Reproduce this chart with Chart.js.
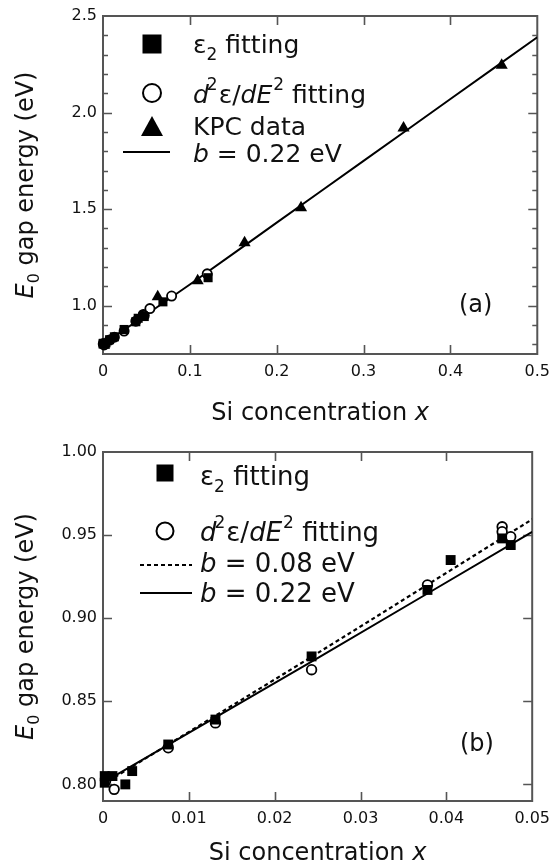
<!DOCTYPE html>
<html>
<head>
<meta charset="utf-8">
<script src="https://cdn.jsdelivr.net/npm/chart.js@4.4.0/dist/chart.umd.min.js"></script>
<style>
  html, body { margin: 0; padding: 0; background: #fff; }
  #wrap { position: relative; width: 558px; height: 863px; overflow: hidden; }
  canvas { position: absolute; left: 0; }
  #ca { top: 0; }
  #cb { top: 430px; }
</style>
</head>
<body>
<div id="wrap">
  <canvas id="ca" width="558" height="430"></canvas>
  <canvas id="cb" width="558" height="433"></canvas>
</div>
<script>
// ---- axis ticks ----
const xTicksA = [0, 0.1, 0.2, 0.3, 0.4, 0.5];
const yTicksA = [1.0, 1.5, 2.0, 2.5];
const yMinorA = [0.8, 0.9, 1.1, 1.2, 1.3, 1.4, 1.6, 1.7, 1.8, 1.9, 2.1, 2.2, 2.3, 2.4];
const xTicksB = [0, 0.01, 0.02, 0.03, 0.04, 0.05];
const yTicksB = [0.80, 0.85, 0.90, 0.95, 1.00];

// ---- ε2 fitting (dilute samples, x < 0.05) ----
const eps2X = [0.0002, 0.0002, 0.0011, 0.0026, 0.0034, 0.0076, 0.0131, 0.0243, 0.0378, 0.0405, 0.0465, 0.0475];
const eps2Y = [0.805, 0.801, 0.805, 0.800, 0.808, 0.824, 0.839, 0.877, 0.917, 0.935, 0.948, 0.944];
// ε2 fitting, higher Si content
const eps2HiX = [0.069, 0.121];
const eps2HiY = [1.020, 1.145];

// ---- d²ε/dE² fitting (dilute samples) ----
const d2X = [0.0003, 0.0013, 0.0076, 0.0131, 0.0243, 0.0378, 0.0465, 0.0465, 0.0475];
const d2Y = [0.802, 0.797, 0.822, 0.837, 0.869, 0.920, 0.955, 0.952, 0.949];
// d²ε/dE² fitting, higher Si content
const d2HiX = [0.054, 0.079, 0.120];
const d2HiY = [0.985, 1.050, 1.165];

// ---- KPC data ----
const kpcX = [0.063, 0.109, 0.163, 0.228, 0.346, 0.459];
const kpcY = [1.046, 1.129, 1.326, 1.507, 1.920, 2.245];

// ---- bowing curves ----
const fit22X = [0, 0.1, 0.2, 0.3, 0.4, 0.5];
const fit22Y = [0.800, 1.110, 1.430, 1.750, 2.070, 2.390];
const fit22BX = [0, 0.025, 0.05];
const fit22BY = [0.801, 0.876, 0.952];
const fit08BX = [0, 0.025, 0.05];
const fit08BY = [0.800, 0.879, 0.9595];

const FONT = "'DejaVu Sans', sans-serif";
const INK = '#111';
const TICK_FONT = { family: "'DejaVu Sans', sans-serif", size: 16, style: 'normal', weight: 'normal', lineHeight: 1.2 };

Chart.defaults.font.family = FONT;
Chart.defaults.font.size = 16;
Chart.defaults.color = INK;

const pts = (xs, ys) => xs.map((x, i) => ({ x: x, y: ys[i] }));

// draw a sequence of styled text pieces starting at (x, y)
function runWidth(ctx, runs) {
  let w = 0;
  for (const r of runs) {
    ctx.font = (r.it ? 'italic ' : '') + r.size + 'px ' + FONT;
    w += ctx.measureText(r.t).width + (r.dx || 0);
  }
  return w;
}
function drawRuns(ctx, x, y, runs) {
  let cx = x;
  for (const r of runs) {
    ctx.font = (r.it ? 'italic ' : '') + r.size + 'px ' + FONT;
    cx += (r.dx || 0);
    ctx.fillText(r.t, cx, y + (r.dy || 0));
    cx += ctx.measureText(r.t).width;
  }
}

function marker(ctx, kind, x, y, s) {
  ctx.save();
  ctx.fillStyle = '#000';
  ctx.strokeStyle = '#000';
  if (kind === 'square') {
    ctx.fillRect(x - s / 2, y - s / 2, s, s);
  } else if (kind === 'circle') {
    ctx.fillStyle = '#fff';
    ctx.lineWidth = 2;
    ctx.beginPath(); ctx.arc(x, y, s / 2, 0, Math.PI * 2); ctx.fill(); ctx.stroke();
  } else if (kind === 'triangle') {
    ctx.beginPath();
    ctx.moveTo(x, y - s * 0.55);
    ctx.lineTo(x + s * 0.55, y + s * 0.45);
    ctx.lineTo(x - s * 0.55, y + s * 0.45);
    ctx.closePath(); ctx.fill();
  }
  ctx.restore();
}

function hline(ctx, x0, x1, y, dash) {
  ctx.save();
  ctx.strokeStyle = '#000';
  ctx.lineWidth = 2;
  if (dash) ctx.setLineDash(dash);
  ctx.beginPath(); ctx.moveTo(x0, y); ctx.lineTo(x1, y); ctx.stroke();
  ctx.restore();
}

// plot frame with inward tick marks on all four sides
const framePlugin = {
  id: 'frame',
  beforeDatasetsDraw(chart, args, o) {
    const { ctx, chartArea: a, scales: { x, y } } = chart;
    ctx.save();
    ctx.strokeStyle = '#555';
    ctx.lineWidth = 2;
    ctx.strokeRect(a.left, a.top, a.right - a.left, a.bottom - a.top);
    ctx.lineWidth = 1.6;
    ctx.beginPath();
    for (const v of o.xMajor) {
      const px = Math.round(x.getPixelForValue(v)) + 0.5;
      if (px <= a.left + 2 || px >= a.right - 2) continue;
      ctx.moveTo(px, a.bottom); ctx.lineTo(px, a.bottom - o.major);
      ctx.moveTo(px, a.top); ctx.lineTo(px, a.top + o.major);
    }
    for (const v of o.yMajor) {
      const py = Math.round(y.getPixelForValue(v)) + 0.5;
      if (py <= a.top + 2 || py >= a.bottom - 2) continue;
      ctx.moveTo(a.left, py); ctx.lineTo(a.left + o.major, py);
      ctx.moveTo(a.right, py); ctx.lineTo(a.right - o.major, py);
    }
    for (const v of o.yMinor) {
      const py = Math.round(y.getPixelForValue(v)) + 0.5;
      ctx.moveTo(a.left, py); ctx.lineTo(a.left + o.minor, py);
      ctx.moveTo(a.right, py); ctx.lineTo(a.right - o.minor, py);
    }
    ctx.stroke();
    ctx.restore();
  }
};

// axis titles, legend and panel tag
const notesPlugin = {
  id: 'notes',
  afterDraw(chart, args, o) {
    const { ctx, chartArea: a } = chart;
    const cfg = chart.config.options.notesCfg;
    ctx.save();
    ctx.fillStyle = INK;
    ctx.textBaseline = 'alphabetic';

    // y title
    const yRuns = [
      { t: 'E', it: true, size: 24 },
      { t: '0', size: 16, dy: 6 },
      { t: ' gap energy (eV)', size: 24 }
    ];
    ctx.save();
    ctx.translate(33, (a.top + a.bottom) / 2);
    ctx.rotate(-Math.PI / 2);
    drawRuns(ctx, -runWidth(ctx, yRuns) / 2, 0, yRuns);
    ctx.restore();

    // x title
    const xRuns = [
      { t: 'Si concentration ', size: 24 },
      { t: 'x', it: true, size: 24 }
    ];
    drawRuns(ctx, (a.left + a.right) / 2 - runWidth(ctx, xRuns) / 2, cfg.xTitleY, xRuns);

    // panel tag
    drawRuns(ctx, cfg.tagX, cfg.tagY, [{ t: cfg.tag, size: 24 }]);

    // legend
    const L = cfg.legend;
    const fs = L.size;
    const sub = Math.round(fs * 0.66);
    for (const row of L.rows) {
      if (row.kind === 'line') hline(ctx, L.lineX0, L.lineX1, row.my, null);
      else if (row.kind === 'dash') hline(ctx, L.lineX0, L.lineX1, row.my, [4, 3]);
      else marker(ctx, row.kind, L.mx, row.my, row.ms);
      let runs;
      if (row.text === 'eps2') {
        runs = [{ t: 'ε', size: fs }, { t: '2', size: sub, dy: 7 }, { t: ' fitting', size: fs }];
      } else if (row.text === 'd2') {
        runs = [
          { t: 'd', it: true, size: fs },
          { t: '2', size: sub, dy: -13, dx: -2 },
          { t: 'ε/', size: fs, dx: 1 },
          { t: 'dE', it: true, size: fs },
          { t: '2', size: sub, dy: -13, dx: 1 },
          { t: ' fitting', size: fs }
        ];
      } else if (row.text === 'b') {
        runs = [{ t: 'b', it: true, size: fs }, { t: ' = ' + row.val + ' eV', size: fs }];
      } else {
        runs = [{ t: row.text, size: fs }];
      }
      drawRuns(ctx, L.tx, row.ty, runs);
    }
    ctx.restore();
  }
};

function fmt(digits) {
  return (v) => (v === 0 ? '0' : Number(v).toFixed(digits));
}

function build(canvas, c) {
  return new Chart(canvas, {
    type: 'scatter',
    data: { datasets: c.datasets },
    options: {
      responsive: false,
      animation: false,
      devicePixelRatio: 1,
      events: [],
      layout: { padding: { left: 0, right: 20, top: c.padTop, bottom: 0 } },
      notesCfg: c.notes,
      plugins: {
        legend: { display: false },
        tooltip: { enabled: false },
        frame: { xMajor: c.xTicks, yMajor: c.yTicks, yMinor: c.yMinor, major: 9, minor: 5 }
      },
      scales: {
        x: {
          type: 'linear', min: c.xMin, max: c.xMax,
          afterBuildTicks: (s) => { s.ticks = c.xTicks.map((v) => ({ value: v })); },
          afterFit: (s) => { s.height = c.xAxisH; },
          grid: { display: false, drawTicks: false },
          border: { display: false },
          ticks: {
            padding: 8, color: INK, maxRotation: 0, minRotation: 0, autoSkip: false,
            font: TICK_FONT,
            callback: fmt(c.xDigits)
          }
        },
        y: {
          type: 'linear', min: c.yMin, max: c.yMax,
          afterBuildTicks: (s) => { s.ticks = c.yTicks.map((v) => ({ value: v })); },
          afterFit: (s) => { s.width = 103; },
          grid: { display: false, drawTicks: false },
          border: { display: false },
          ticks: {
            padding: 6, color: INK, autoSkip: false,
            font: TICK_FONT,
            callback: fmt(c.yDigits)
          }
        }
      }
    },
    plugins: [framePlugin, notesPlugin]
  });
}

function squares(data, r) {
  return { data: data, pointStyle: 'rect', pointRadius: r, backgroundColor: '#000', borderColor: '#000', borderWidth: 0, showLine: false, clip: false };
}
function circles(data, r) {
  return { data: data, pointStyle: 'circle', pointRadius: r, backgroundColor: '#fff', borderColor: '#000', borderWidth: 1.8, showLine: false, clip: false };
}
function triangles(data, r) {
  return { data: data, pointStyle: 'triangle', pointRadius: r, backgroundColor: '#000', borderColor: '#000', borderWidth: 0, showLine: false, clip: false };
}
function curve(data, dash, w) {
  return { data: data, showLine: true, pointRadius: 0, borderColor: '#000', borderWidth: w || 2, borderDash: dash || [], fill: false, tension: 0.3 };
}

// (a) full range
build(document.getElementById('ca'), {
  xMin: 0, xMax: 0.5, yMin: 0.75, yMax: 2.5,
  xTicks: xTicksA, yTicks: yTicksA, yMinor: yMinorA,
  xDigits: 1, yDigits: 1,
  padTop: 16, xAxisH: 76,
  datasets: [
    squares(pts(eps2X.concat(eps2HiX), eps2Y.concat(eps2HiY)), 6.4),
    circles(pts(d2X.concat(d2HiX), d2Y.concat(d2HiY)), 4.6),
    triangles(pts(kpcX, kpcY), 7),
    curve(pts(fit22X, fit22Y))
  ],
  notes: {
    xTitleY: 420, tag: '(a)', tagX: 459, tagY: 312,
    legend: {
      size: 25, mx: 152, tx: 193, lineX0: 123, lineX1: 170,
      rows: [
        { kind: 'square', my: 44, ms: 19, text: 'eps2', ty: 53 },
        { kind: 'circle', my: 93, ms: 18, text: 'd2', ty: 103 },
        { kind: 'triangle', my: 127, ms: 20, text: 'KPC data', ty: 135 },
        { kind: 'line', my: 152, text: 'b', val: '0.22', ty: 162 }
      ]
    }
  }
});

// (b) dilute range
build(document.getElementById('cb'), {
  xMin: 0, xMax: 0.05, yMin: 0.79, yMax: 1.00,
  xTicks: xTicksB, yTicks: yTicksB, yMinor: [],
  xDigits: 2, yDigits: 2,
  padTop: 22, xAxisH: 62,
  datasets: [
    squares(pts(eps2X, eps2Y), 7),
    circles(pts(d2X, d2Y), 4.8),
    curve(pts(fit08BX, fit08BY), [4, 3], 2.2),
    curve(pts(fit22BX, fit22BY))
  ],
  notes: {
    xTitleY: 430, tag: '(b)', tagX: 460, tagY: 321,
    legend: {
      size: 26, mx: 165, tx: 200, lineX0: 140, lineX1: 192,
      rows: [
        { kind: 'square', my: 43, ms: 17, text: 'eps2', ty: 55 },
        { kind: 'circle', my: 101, ms: 17, text: 'd2', ty: 111 },
        { kind: 'dash', my: 135, text: 'b', val: '0.08', ty: 142 },
        { kind: 'line', my: 163, text: 'b', val: '0.22', ty: 172 }
      ]
    }
  }
});
</script>
</body>
</html>
